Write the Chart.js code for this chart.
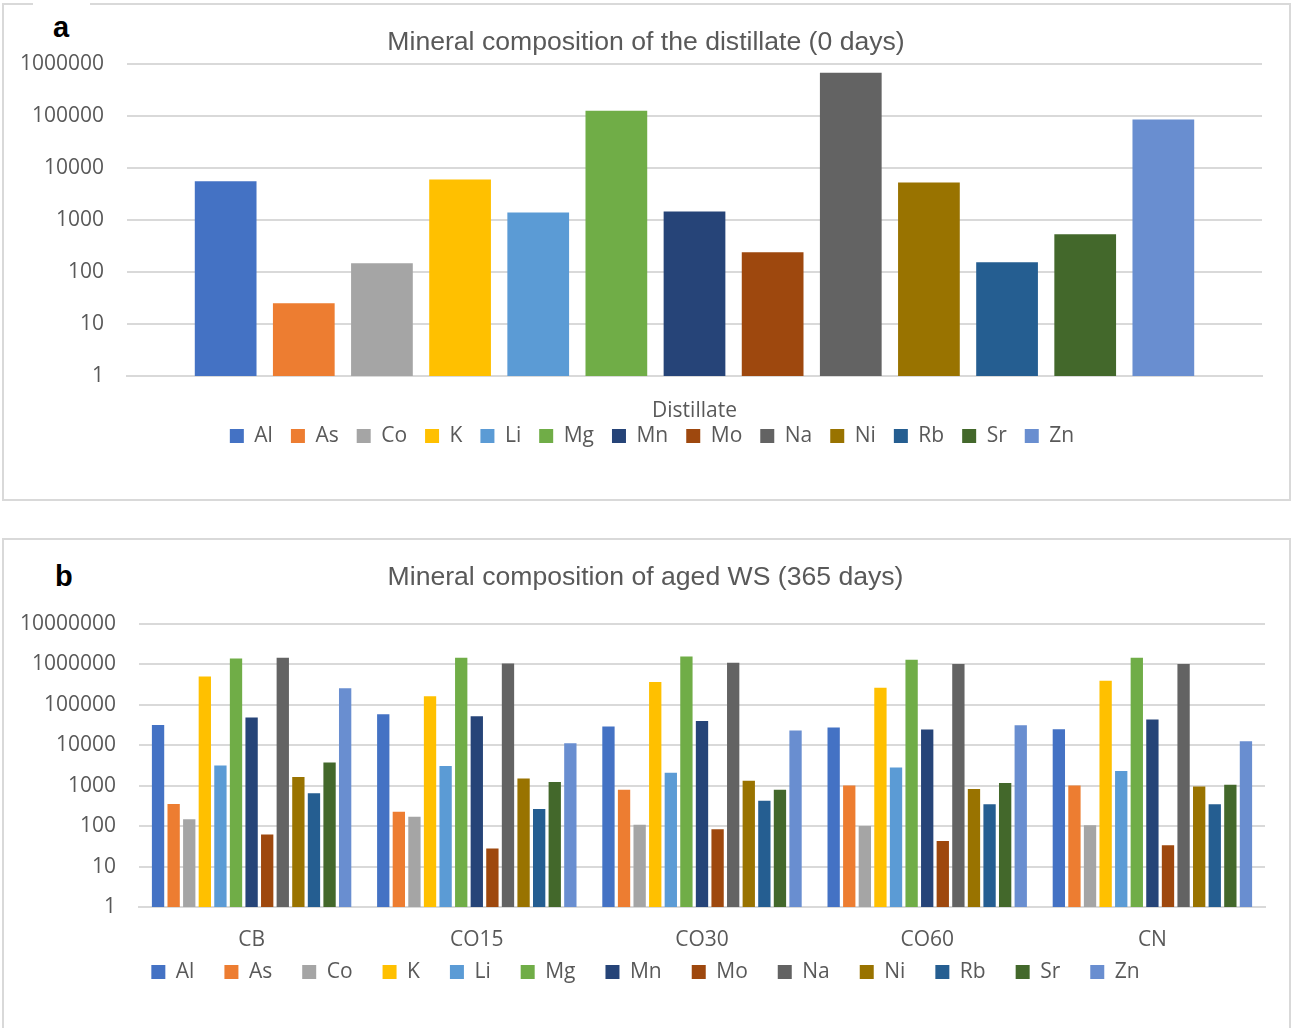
<!DOCTYPE html>
<html>
<head>
<meta charset="utf-8">
<script src="https://cdn.jsdelivr.net/npm/chart.js@4.4.1/dist/chart.umd.min.js"></script>
<style>
  html, body { margin:0; padding:0; background:#fff; overflow:hidden; width:1291px; height:1028px; }
  .box { position:absolute; border:2px solid #d9d9d9; box-sizing:border-box; }
  .lbl { position:absolute; font-family:"Liberation Sans", Arial, sans-serif; font-weight:bold; font-size:29px; color:#000; line-height:1; }
  .cw { position:absolute; left:0; width:1291px; }
</style>
</head>
<body>
<div class="box" style="left:2px;top:3px;width:1289px;height:498px;"></div>
<div style="position:absolute;left:33px;top:0px;width:57px;height:8px;background:#fff;"></div>
<div class="box" style="left:2px;top:538px;width:1289px;height:520px;"></div>
<div class="lbl" style="left:53px;top:13px;">a</div>
<div class="lbl" style="left:55px;top:562px;">b</div>
<div class="cw" style="top:0px;height:500px;"><canvas id="c1"></canvas></div>
<div class="cw" style="top:530px;height:498px;"><canvas id="c2"></canvas></div>
<script>
// ---- data ----
const elements = ['Al','As','Co','K','Li','Mg','Mn','Mo','Na','Ni','Rb','Sr','Zn'];
const colors = ['#4472C4','#ED7D31','#A5A5A5','#FFC000','#5B9BD5','#70AD47','#264478','#9E480E','#636363','#997300','#255E91','#43682B','#698ED0'];

const distillateCategories = ['Distillate'];
const distillateValues = [5500, 25, 147, 5970, 1385, 125500, 1455, 238, 671000, 5230, 153, 527, 84400];

const agedCategories = ['CB','CO15','CO30','CO60','CN'];
const agedAl = [31600, 57800, 28700, 27100, 24700];
const agedAs = [351, 227, 791, 1012, 1012];
const agedCo = [147, 171, 107, 101, 105];
const agedK  = [499000, 160400, 361000, 262000, 390000];
const agedLi = [3140, 3030, 2075, 2806, 2280];
const agedMg = [1384000, 1439000, 1550000, 1283000, 1439000];
const agedMn = [47900, 51600, 39600, 24200, 42700];
const agedMo = [61.6, 27.9, 83, 43, 33.7];
const agedNa = [1439000, 1042000, 1082000, 1004000, 1004000];
const agedNi = [1622, 1504, 1318, 822, 955];
const agedRb = [643, 264, 424, 344, 344];
const agedSr = [3727, 1222, 791, 1155, 1050];
const agedZn = [252700, 11160, 22900, 31000, 12500];
const agedSeries = [agedAl, agedAs, agedCo, agedK, agedLi, agedMg, agedMn, agedMo, agedNa, agedNi, agedRb, agedSr, agedZn];

const topTicks = [1, 10, 100, 1000, 10000, 100000, 1000000];
const bottomTicks = [1, 10, 100, 1000, 10000, 100000, 1000000, 10000000];

const topTitle = 'Mineral composition of the distillate (0 days)';
const bottomTitle = 'Mineral composition of aged WS (365 days)';

// ---- chart helpers ----
const TXT = '#595959';
const GRID = '#d9d9d9';
const tickFont = { family: '"Open Sans", "Noto Sans", sans-serif', size: 21 };

function adjustBoxes(legendDx, legendTop, titleDx) {
  return {
    id: 'adjustBoxes',
    afterLayout(chart) {
      const lg = chart.legend;
      if (lg) {
        const h = lg.bottom - lg.top;
        lg.left += legendDx; lg.right += legendDx;
        lg.top = legendTop; lg.bottom = legendTop + h;
      }
      const tb = chart.titleBlock;
      if (tb) { tb.left += titleDx; tb.right += titleDx; }
    }
  };
}

function makeChart(id, cfg) {
  const datasets = cfg.series.map((vals, i) => ({
    label: elements[i],
    data: vals,
    backgroundColor: colors[i],
    borderWidth: 0,
    categoryPercentage: cfg.catPct,
    barPercentage: 0.79
  }));
  return new Chart(document.getElementById(id), {
    type: 'bar',
    data: { labels: cfg.labels, datasets },
    plugins: [adjustBoxes(cfg.legendShift, cfg.legendTop, cfg.titleShift)],
    options: {
      responsive: true,
      maintainAspectRatio: false,
      animation: false,
      layout: { padding: { left: 0, right: cfg.padRight, top: 0, bottom: cfg.padBottom } },
      plugins: {
        title: {
          display: true,
          text: cfg.title,
          color: TXT,
          font: { family: '"Liberation Sans", Arial, sans-serif', size: 26.6, weight: 'normal', lineHeight: 1.2 },
          padding: { top: cfg.titleTop, bottom: cfg.titleBottom }
        },
        legend: {
          display: true,
          position: 'bottom',
          labels: {
            color: TXT,
            font: tickFont,
            boxWidth: 14,
            boxHeight: 14,
            padding: cfg.legendPad
          }
        },
        tooltip: { enabled: false }
      },
      scales: {
        x: {
          grid: { display: false },
          border: { display: true, color: GRID, width: 2 },
          ticks: { color: TXT, font: tickFont, padding: cfg.xPad },
          afterFit(scale) { scale.height = cfg.xHeight; }
        },
        y: {
          type: 'logarithmic',
          min: cfg.ticks[0],
          max: cfg.ticks[cfg.ticks.length - 1],
          grid: { color: GRID, lineWidth: 2, drawTicks: false },
          border: { display: false },
          ticks: {
            color: TXT, font: tickFont, padding: 23,
            callback: (v) => String(v)
          },
          afterBuildTicks(scale) { scale.ticks = cfg.ticks.map(v => ({ value: v })); },
          afterFit(scale) { scale.width = cfg.yWidth; }
        }
      }
    }
  });
}

makeChart('c1', {
  labels: distillateCategories,
  series: distillateValues.map(v => [v]),
  catPct: 0.895,
  title: topTitle,
  ticks: topTicks,
  titleTop: 26.4, titleBottom: 5.4,
  padRight: 29, padBottom: 29,
  legendPad: 18, legendShift: 21, legendTop: 407.5,
  titleShift: 15,
  xPad: 14, xHeight: 46,
  yWidth: 127
});

makeChart('c2', {
  labels: agedCategories,
  series: agedSeries,
  catPct: 0.9,
  title: bottomTitle,
  ticks: bottomTicks,
  titleTop: 31.4, titleBottom: 30.4,
  padRight: 26, padBottom: 15,
  legendPad: 30, legendShift: 13, legendTop: 401.5,
  titleShift: 13,
  xPad: 12.4, xHeight: 45,
  yWidth: 139
});
</script>
</body>
</html>
